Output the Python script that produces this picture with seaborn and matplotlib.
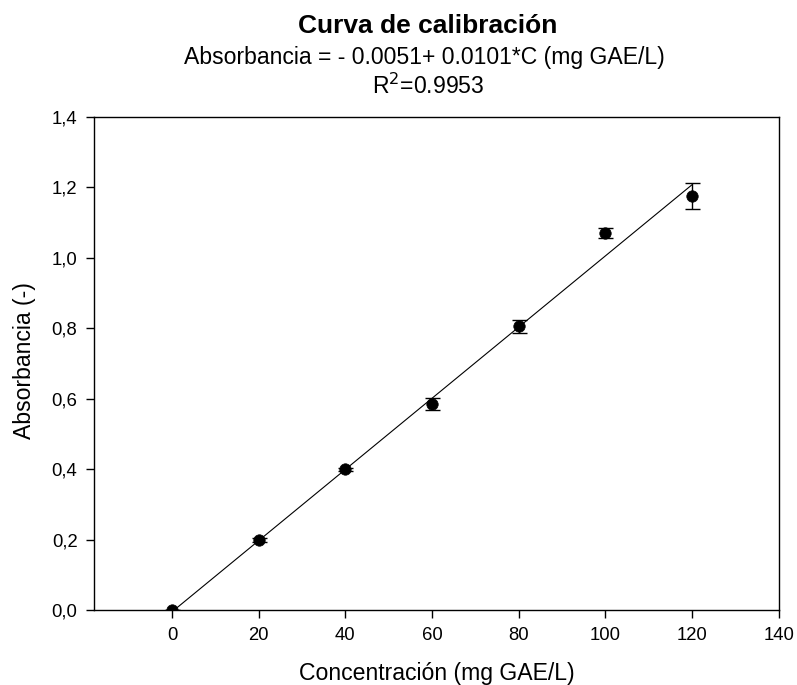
import matplotlib
matplotlib.use("Agg")
import matplotlib.pyplot as plt
import matplotlib.ticker as mticker
import numpy as np
import pandas as pd
import seaborn as sns

# Calibration standards (mg GAE/L) and mean absorbance with standard deviations
concentration = [0, 20, 40, 60, 80, 100, 120]
absorbance = [0.000, 0.198, 0.399, 0.585, 0.805, 1.070, 1.175]
absorbance_sd = [0.000, 0.005, 0.005, 0.017, 0.018, 0.014, 0.036]

# Linear fit coefficients
intercept = -0.0051
slope = 0.0101

x_ticks = [0, 20, 40, 60, 80, 100, 120, 140]
y_ticks = [0.0, 0.2, 0.4, 0.6, 0.8, 1.0, 1.2, 1.4]

data = pd.DataFrame({"C": concentration, "A": absorbance, "sd": absorbance_sd})
fit = pd.DataFrame({"C": [concentration[0], concentration[-1]]})
fit["A"] = intercept + slope * fit["C"]

sns.set_theme(style="ticks")
plt.rcParams["font.family"] = ["Liberation Sans", "DejaVu Sans"]

fig = plt.figure(figsize=(7.97, 6.85), dpi=100)
ax = fig.add_axes([0.118, 0.1095, 0.859, 0.7201])

sns.lineplot(data=fit, x="C", y="A", ax=ax, color="black", linewidth=0.8)
ax.errorbar(data["C"], data["A"], yerr=data["sd"], fmt="none", ecolor="black",
            elinewidth=1.0, capsize=5.4, capthick=1.0, zorder=3)
sns.scatterplot(data=data, x="C", y="A", ax=ax, color="black", s=68,
                edgecolor="black", linewidth=0.5, zorder=4)

ax.set_xlim(-18, 140)
ax.set_ylim(0, 1.4)
ax.set_xticks(x_ticks)
ax.set_yticks(y_ticks)
ax.yaxis.set_major_formatter(mticker.FuncFormatter(lambda v, p: f"{v:.1f}".replace(".", ",")))
ax.tick_params(direction="out", length=6, width=1.0, colors="black", labelsize=13.3, pad=6)

for side in ["left", "right", "top", "bottom"]:
    ax.spines[side].set_visible(True)
    ax.spines[side].set_color("black")
    ax.spines[side].set_linewidth(1.0)

ax.set_xlabel("Concentración (mg GAE/L)", fontsize=16.6, color="black")
ax.set_ylabel("Absorbancia (-)", fontsize=16.6, color="black")
ax.xaxis.set_label_coords(0.5, -0.105)
ax.yaxis.set_label_coords(-0.085, 0.505)

fig.text(0.536, 0.9518, "Curva de calibración", ha="center", va="baseline",
         fontsize=19, fontweight="bold", color="black")
fig.text(0.533, 0.9061, "Absorbancia = - 0.0051+ 0.0101*C (mg GAE/L)", ha="center",
         va="baseline", fontsize=16.6, color="black")
fig.text(0.537, 0.8623, r"R$^2$=0.9953", ha="center", va="baseline", fontsize=16.6,
         color="black")

fig.savefig("out.png", dpi=100)
